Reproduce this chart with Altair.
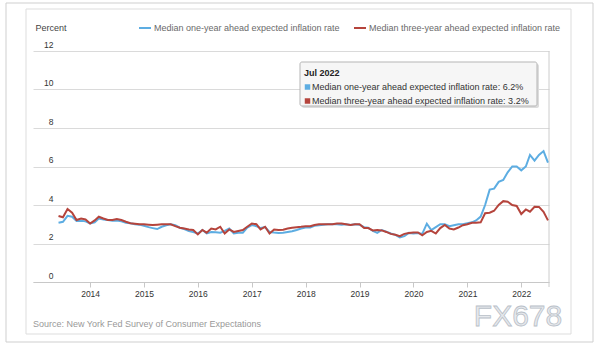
import altair as alt
import pandas as pd

# ---------------- data ----------------
months = pd.date_range("2013-06-01", "2022-07-01", freq="MS").strftime("%Y-%m-%d").tolist()

one_year = [
    3.08, 3.13, 3.44, 3.39, 3.17, 3.18, 3.15,                                # 2013 Jun-Dec
    3.04, 3.10, 3.30, 3.25, 3.22, 3.18, 3.20, 3.15, 3.08, 3.05, 3.00, 2.98,  # 2014
    2.92, 2.85, 2.80, 2.75, 2.87, 2.95, 3.00, 2.95, 2.82, 2.75, 2.65, 2.60,  # 2015
    2.52, 2.70, 2.52, 2.60, 2.58, 2.56, 2.66, 2.78, 2.52, 2.56, 2.56, 2.83,  # 2016
    2.96, 2.90, 2.80, 2.85, 2.60, 2.57, 2.55, 2.56, 2.60, 2.64, 2.70, 2.78,  # 2017
    2.83, 2.83, 2.92, 2.95, 2.98, 3.00, 3.00, 3.00, 2.98, 3.00, 2.96, 3.00,  # 2018
    2.98, 2.85, 2.82, 2.65, 2.55, 2.70, 2.62, 2.52, 2.45, 2.32, 2.38, 2.55,  # 2019
    2.52, 2.55, 2.50, 3.03, 2.70, 2.85, 3.00, 3.00, 2.90, 2.95, 3.00, 3.00,  # 2020
    3.05, 3.10, 3.20, 3.40, 4.00, 4.80, 4.85, 5.20, 5.30, 5.70, 6.00, 6.00,  # 2021
    5.80, 6.00, 6.60, 6.30, 6.60, 6.80, 6.2,                                 # 2022 Jan-Jul
]

three_year = [
    3.43, 3.36, 3.79, 3.60, 3.22, 3.30, 3.25,
    3.04, 3.20, 3.39, 3.30, 3.22, 3.22, 3.27, 3.22, 3.13, 3.05, 3.03, 3.00,
    3.00, 2.98, 2.96, 2.98, 3.00, 3.00, 3.00, 2.90, 2.82, 2.78, 2.73, 2.70,
    2.47, 2.70, 2.56, 2.78, 2.73, 2.87, 2.52, 2.73, 2.60, 2.65, 2.70, 2.87,
    3.04, 3.00, 2.73, 2.87, 2.52, 2.73, 2.70, 2.72, 2.78, 2.82, 2.85, 2.87,
    2.90, 2.90, 2.96, 3.00, 3.00, 3.00, 3.00, 3.04, 3.04, 3.00, 2.96, 3.00,
    3.00, 2.80, 2.80, 2.68, 2.70, 2.68, 2.60, 2.50, 2.45, 2.38, 2.50, 2.55,
    2.57, 2.57, 2.43, 2.60, 2.66, 2.52, 2.80, 2.96, 2.78, 2.73, 2.83, 2.95,
    3.00, 3.08, 3.08, 3.10, 3.57, 3.60, 3.70, 4.00, 4.20, 4.17, 4.00, 3.95,
    3.53, 3.77, 3.65, 3.91, 3.90, 3.65, 3.2,
]

series_names = [
    "Median one-year ahead expected inflation rate",
    "Median three-year ahead expected inflation rate",
]
series_colors = ["#5dade2", "#b5443c"]
year_ticks = list(range(2014, 2023))
y_ticks = [0, 2, 4, 6, 8, 10, 12]
source_text = "Source: New York Fed Survey of Consumer Expectations"
watermark = "FX678"

# ---------------- build ----------------
n = len(months)
df = pd.DataFrame({
    "date": months + months,
    "value": one_year + three_year,
    "series": [series_names[0]] * n + [series_names[1]] * n,
})

FONT = "Liberation Sans"
W, H = 516, 231
one = pd.DataFrame({"a": [0]})

x_enc = alt.X(
    "date:T",
    scale=alt.Scale(
        type="utc",
        domain=[alt.DateTime(year=2012, month=12, date=10, utc=True),
                alt.DateTime(year=2022, month=7, date=8, utc=True)],
    ),
    axis=alt.Axis(
        values=[alt.DateTime(year=y, month=1, date=1, utc=True) for y in year_ticks],
        format="%Y", title=None, grid=False,
        domain=True, domainColor="#c8c8c8",
        ticks=True, tickSize=5, tickColor="#c8c8c8",
        labelPadding=2, labelFont=FONT, labelFontSize=8.5, labelColor="#333333",
    ),
)
y_enc = alt.Y(
    "value:Q",
    scale=alt.Scale(domain=[0, 12]),
    axis=alt.Axis(
        values=y_ticks, grid=True, gridColor="#dadada", gridWidth=1,
        domain=False, ticks=False, tickSize=0,
        labelAlign="right", labelBaseline="bottom", labelPadding=-20, labelOffset=-2,
        labelFont=FONT, labelFontSize=8.5, labelColor="#333333",
        title="Percent", titleAngle=0, titleAlign="left", titleBaseline="middle",
        titleX=2, titleY=-24, titleFont=FONT, titleFontSize=9,
        titleFontWeight="normal", titleColor="#444444",
    ),
)

lines = alt.Chart(df).mark_line(strokeWidth=2).encode(
    x=x_enc,
    y=y_enc,
    color=alt.Color(
        "series:N",
        scale=alt.Scale(domain=series_names, range=series_colors),
        legend=alt.Legend(
            title=None, orient="none", legendX=105, legendY=-30,
            direction="horizontal", symbolType="stroke", symbolSize=144,
            symbolStrokeWidth=2, labelFont=FONT, labelFontSize=9, labelLimit=0,
            labelColor="#6a6a6a", labelOffset=2, columnPadding=10, padding=0,
        ),
    ),
)

outer = alt.Chart(one).mark_rect(fillOpacity=0, stroke="#cfcfcf", strokeWidth=1).encode(
    x=alt.value(-27), x2=alt.value(560), y=alt.value(-48), y2=alt.value(291))
inner = alt.Chart(one).mark_rect(fillOpacity=0, stroke="#dddddd", strokeWidth=1).encode(
    x=alt.value(-7), x2=alt.value(538), y=alt.value(-42), y2=alt.value(283))
right_line = alt.Chart(one).mark_rule(color="#cccccc", strokeWidth=1).encode(
    x=alt.value(W), y=alt.value(0), y2=alt.value(H + 5))

tip_shadow = alt.Chart(one).mark_rect(fill="#dcdcdc", cornerRadius=2).encode(
    x=alt.value(269), x2=alt.value(506), y=alt.value(13), y2=alt.value(57))
tip_box = alt.Chart(one).mark_rect(fill="#f6f6f6", stroke="#b5b5b5", strokeWidth=1, cornerRadius=2).encode(
    x=alt.value(267), x2=alt.value(504), y=alt.value(11), y2=alt.value(55))

last_label = pd.Timestamp(months[-1]).strftime("%b %Y")
tip_title = alt.Chart(pd.DataFrame({"t": [last_label]})).mark_text(
    font=FONT, fontSize=9, fontWeight="bold", color="#222222", align="left", baseline="middle"
).encode(x=alt.value(271), y=alt.value(22), text="t:N")

tip_rows = pd.DataFrame({
    "t": [f"{series_names[0]}: {one_year[-1]}%", f"{series_names[1]}: {three_year[-1]}%"],
    "series": series_names,
    "row": [0, 1],
})
tip_text = alt.Chart(tip_rows).mark_text(
    font=FONT, fontSize=9, color="#333333", align="left", baseline="middle"
).encode(
    x=alt.value(279),
    y=alt.Y("row:Q", scale=alt.Scale(domain=[0, 1], range=[36, 50]), axis=None),
    text="t:N",
)
tip_sq = alt.Chart(tip_rows).mark_square(size=30, opacity=1).encode(
    x=alt.value(274.5),
    y=alt.Y("row:Q", scale=alt.Scale(domain=[0, 1], range=[36, 50]), axis=None),
    color=alt.Color("series:N", scale=alt.Scale(domain=series_names, range=series_colors), legend=None),
)

source = alt.Chart(pd.DataFrame({"t": [source_text]})).mark_text(
    font=FONT, fontSize=9, color="#999999", align="left", baseline="middle"
).encode(x=alt.value(0), y=alt.value(273), text="t:N")

wm = alt.Chart(pd.DataFrame({"t": [watermark]})).mark_text(
    font=FONT, fontSize=30, fill="#e6e9ed", stroke="#b9c0c8", strokeWidth=0.8,
    align="center", baseline="alphabetic",
).encode(x=alt.value(485), y=alt.value(275), text="t:N")

chart = alt.layer(
    outer, inner, right_line, lines, tip_shadow, tip_box, tip_title, tip_sq, tip_text, source, wm
).resolve_scale(y="independent", color="shared").properties(
    width=W, height=H,
    autosize=alt.AutoSizeParams(type="none"),
    padding={"left": 33, "top": 51, "right": 48, "bottom": 64},
    background="white",
).configure_view(stroke=None)

chart.save("out.html", embed_options={"renderer": "svg", "actions": False})
